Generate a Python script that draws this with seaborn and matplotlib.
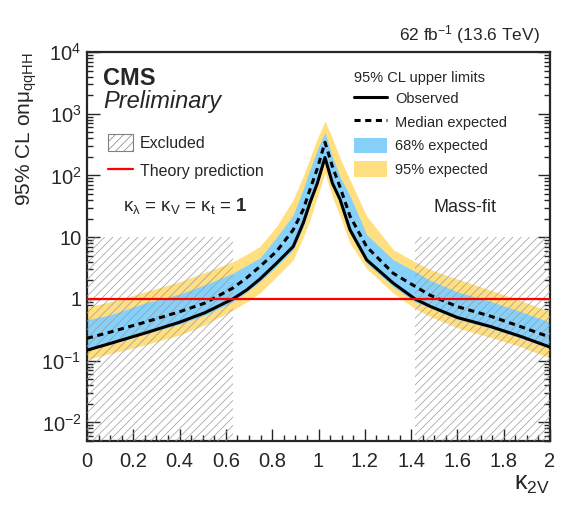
# kappa_2V scan: 95% CL upper limits on mu_qqHH, CMS style

import matplotlib
import matplotlib.pyplot as plt
import seaborn as sns
import pandas as pd
from matplotlib.patches import Patch
from matplotlib.lines import Line2D
from matplotlib.ticker import FixedLocator, MultipleLocator, LogLocator, NullFormatter

matplotlib.use('Agg')

# values
kappa_2v = [0.0, 0.1, 0.25, 0.4, 0.51, 0.63, 0.69, 0.747, 0.819, 0.891, 0.934, 0.963,
            0.995, 1.028, 1.06, 1.093, 1.136, 1.208, 1.323, 1.417, 1.482, 1.6, 1.74,
            1.87, 2.0]
observed = [0.148, 0.19, 0.28, 0.42, 0.6, 1.0, 1.4, 2.1, 3.8, 7.1, 17, 36,
            75, 195, 75, 41, 13.2, 4.3, 1.8, 1.0, 0.76, 0.5, 0.36,
            0.25, 0.166]
median_exp = [0.23, 0.29, 0.42, 0.62, 0.86, 1.5, 2.2, 3.35, 5.9, 13.2, 28, 59,
              130, 345, 140, 65, 22, 7.0, 2.6, 1.6, 1.15, 0.75, 0.53,
              0.36, 0.24]
lo_68 = [0.145, 0.185, 0.27, 0.39, 0.55, 0.9, 1.3, 1.9, 3.4, 6.3, 15, 32,
         75, 175, 70, 36, 11.5, 3.8, 1.58, 0.9, 0.72, 0.47, 0.34,
         0.235, 0.16]
hi_68 = [0.46, 0.55, 0.86, 1.2, 1.7, 2.6, 3.5, 4.6, 10, 23, 60, 125,
         260, 500, 200, 95, 47, 11, 4.3, 2.8, 2.0, 1.3, 0.92,
         0.63, 0.42]
lo_95 = [0.105, 0.13, 0.18, 0.26, 0.38, 0.66, 0.9, 1.25, 2.3, 4.3, 10, 19,
         45, 110, 45, 22, 8, 3.1, 1.25, 0.7, 0.52, 0.34, 0.24,
         0.17, 0.11]
hi_95 = [0.74, 0.9, 1.3, 1.9, 2.7, 4.0, 5.3, 7.1, 15, 41, 97, 190,
         400, 760, 400, 190, 85, 22, 6.3, 4.0, 3.0, 2.1, 1.4,
         0.95, 0.62]

excluded_ranges = [(0.0, 0.63), (1.417, 2.0)]
excluded_top = 10
theory = 1.0

y_ticks = [1e-2, 1e-1, 1, 10, 1e2, 1e3, 1e4]
y_ticklabels = ["$10^{-2}$", "$10^{-1}$", "1", "10", "$10^{2}$", "$10^{3}$", "$10^{4}$"]

sns.set_style("ticks")
plt.rcParams['font.family'] = ['Liberation Sans', 'DejaVu Sans']
plt.rcParams['mathtext.fontset'] = 'custom'
plt.rcParams['mathtext.rm'] = 'Liberation Sans'
plt.rcParams['mathtext.it'] = 'Liberation Sans'
plt.rcParams['mathtext.bf'] = 'Liberation Sans:bold'
plt.rcParams['hatch.linewidth'] = 0.5
plt.rcParams['hatch.color'] = '#9a9a9a'

df = pd.DataFrame({"kappa_2v": kappa_2v, "observed": observed, "median": median_exp,
                   "lo68": lo_68, "hi68": hi_68, "lo95": lo_95, "hi95": hi_95})

BLUE = '#85D1FB'
YELLOW = '#FFDF7F'
DASH = (0, (2, 1.5))

fig = plt.figure(figsize=(5.8, 5.19), dpi=100)
ax = fig.add_axes([87 / 580, 1 - 441 / 519, 463 / 580, 389 / 519])

ax.fill_between(df["kappa_2v"], df["lo95"], df["hi95"], color=YELLOW, lw=0, zorder=1)
ax.fill_between(df["kappa_2v"], df["lo68"], df["hi68"], color=BLUE, lw=0, zorder=2)

for a, b in excluded_ranges:
    ax.fill_between([a, b], 1e-3, excluded_top, facecolor='none', edgecolor='#9a9a9a',
                    hatch='////', lw=0, zorder=3)

sns.lineplot(data=df, x="kappa_2v", y="median", color='black', lw=2.2,
             linestyle=DASH, ax=ax, zorder=5)
sns.lineplot(data=df, x="kappa_2v", y="observed", color='black', lw=2.2, ax=ax, zorder=5)
ax.axhline(theory, color='red', lw=1.6, zorder=6)

ax.set_yscale('log')
ax.set_xlim(0, 2)
ax.set_ylim(5e-3, 1e4)

ax.set_xticks([0, 0.2, 0.4, 0.6, 0.8, 1, 1.2, 1.4, 1.6, 1.8, 2])
ax.set_xticklabels(["0", "0.2", "0.4", "0.6", "0.8", "1", "1.2", "1.4", "1.6", "1.8", "2"])
ax.xaxis.set_minor_locator(MultipleLocator(0.05))
ax.yaxis.set_major_locator(FixedLocator(y_ticks))
ax.set_yticklabels(y_ticklabels)
ax.yaxis.set_minor_locator(LogLocator(base=10, subs=range(2, 10), numticks=20))
ax.yaxis.set_minor_formatter(NullFormatter())

ax.tick_params(which='both', direction='in', right=True, top=False, width=1)
ax.tick_params(which='major', length=9, labelsize=14.5)
ax.tick_params(axis='x', which='major', pad=8)
ax.tick_params(axis='y', which='major', pad=4)
ax.tick_params(which='minor', length=4.5)
for s in ax.spines.values():
    s.set_linewidth(1.6)

ax.set_xlabel(r"$\mathrm{\kappa_{2V}}$", fontsize=18, loc='right', labelpad=1)
ax.set_ylabel(r"95% CL on$\mathrm{\mu_{qqHH}}$", fontsize=15, loc='top', labelpad=2)

ax.text(0.978, 1.015, r"62 fb$^{-1}$ (13.6 TeV)", transform=ax.transAxes,
        ha='right', va='bottom', fontsize=12.5)
ax.text(0.035, 0.962, "CMS", transform=ax.transAxes, ha='left', va='top',
        fontsize=17, fontweight='bold')
ax.text(0.035, 0.874, "Preliminary", transform=ax.transAxes, ha='left', va='center',
        fontsize=17, style='italic')
ax.text(0.212, 0.604, r"$\kappa_{\lambda}$ = $\kappa_{V}$ = $\kappa_{t}$ = $\mathbf{1}$",
        transform=ax.transAxes, ha='center', va='center', fontsize=13.5)
ax.text(0.816, 0.599, "Mass-fit", transform=ax.transAxes, ha='center', va='center',
        fontsize=13)

# left legend: excluded / theory
h1 = [Patch(facecolor='white', edgecolor='#808080', hatch='////', lw=0.8),
      Line2D([], [], color='red', lw=1.6)]
leg1 = ax.legend(h1, ["Excluded", "Theory prediction"], loc='upper left',
                 bbox_to_anchor=(0.045, 0.788), frameon=False, fontsize=11.5,
                 handlelength=1.6, handleheight=1.2, handletextpad=0.4,
                 labelspacing=0.72, borderpad=0, borderaxespad=0)

# right legend: limits
h2 = [Line2D([], [], color='black', lw=2.2),
      Line2D([], [], color='black', lw=2.2, linestyle=DASH),
      Patch(facecolor=BLUE, lw=0), Patch(facecolor=YELLOW, lw=0)]
leg2 = ax.legend(h2, ["Observed", "Median expected", "68% expected", "95% expected"],
                 title="95% CL upper limits", loc='upper left',
                 bbox_to_anchor=(0.576, 0.958), frameon=False, fontsize=10.5,
                 title_fontsize=10.5, handlelength=2.3, handleheight=1.25,
                 handletextpad=0.55, labelspacing=0.55, borderpad=0,
                 borderaxespad=0, alignment='left')
leg2.get_title().set_position((0, -3))
ax.add_artist(leg1)

fig.savefig("out.png", dpi=100)
plt.close(fig)
